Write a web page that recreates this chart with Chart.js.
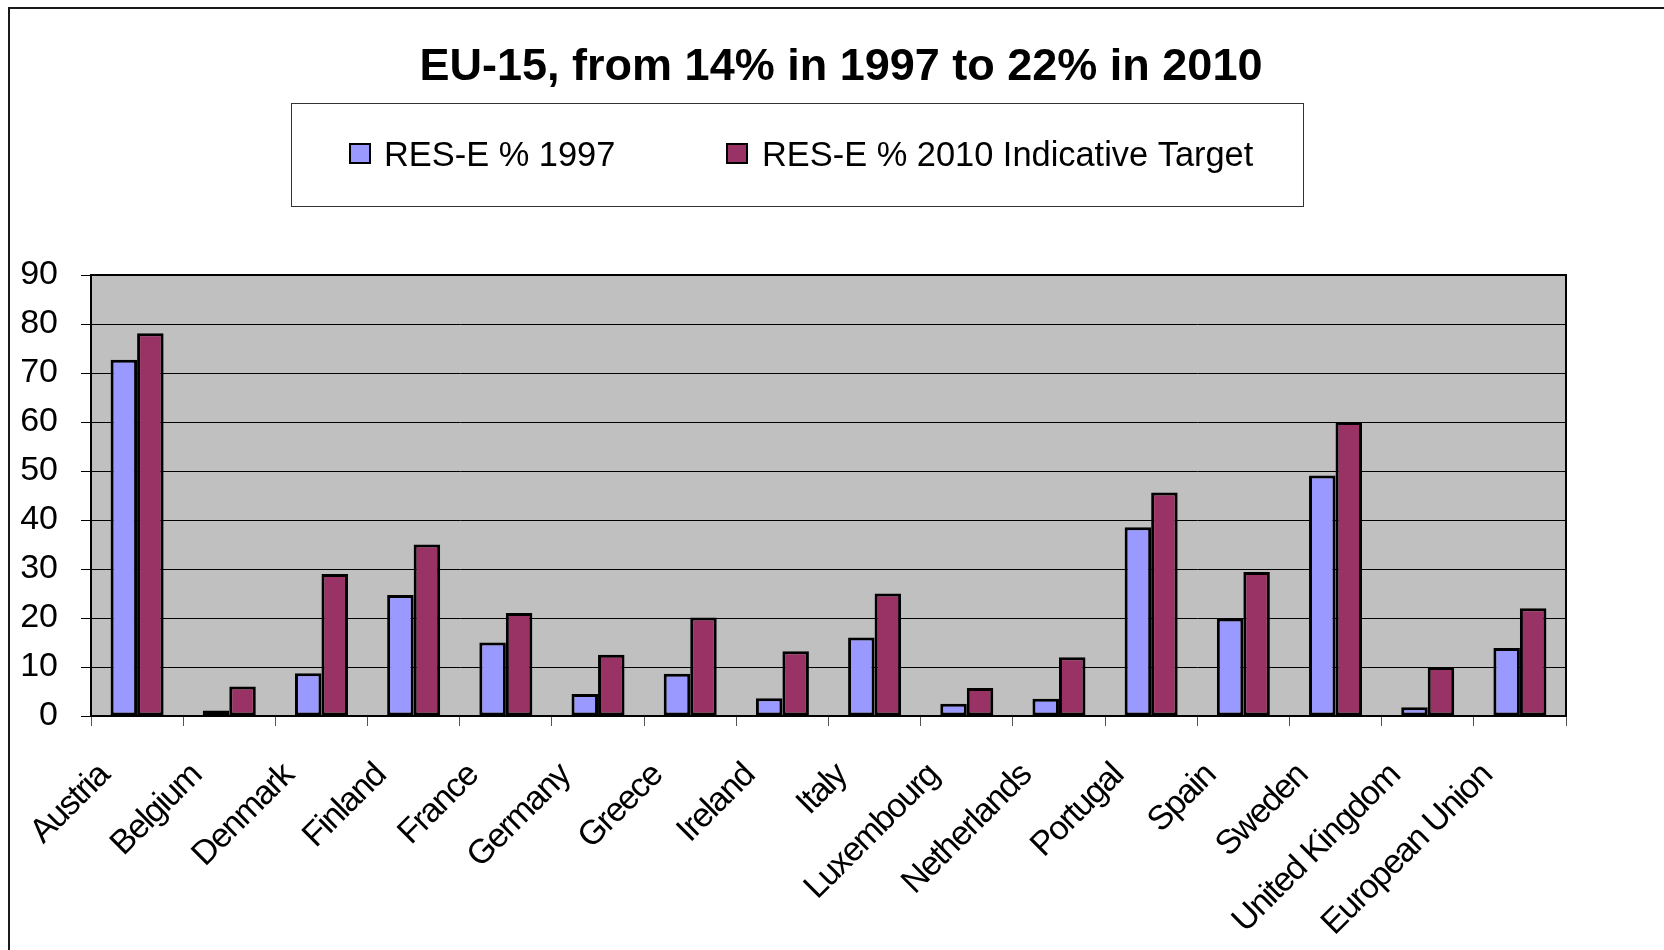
<!DOCTYPE html>
<html>
<head>
<meta charset="utf-8">
<script src="https://cdn.jsdelivr.net/npm/chart.js@4/dist/chart.umd.min.js"></script>
<style>
html,body{margin:0;padding:0;background:#fff;}
#wrap{width:1664px;height:950px;overflow:hidden;}
canvas{display:block;}
</style>
</head>
<body>
<div id="wrap"><canvas id="c" width="1664" height="950"></canvas></div>
<script>
const chartTitle = 'EU-15, from 14% in 1997 to 22% in 2010';
const countries = ['Austria', 'Belgium', 'Denmark', 'Finland', 'France', 'Germany', 'Greece', 'Ireland', 'Italy', 'Luxembourg', 'Netherlands', 'Portugal', 'Spain', 'Sweden', 'United Kingdom', 'European Union'];
const seriesNames = ['RES-E % 1997', 'RES-E % 2010 Indicative Target'];
const res1997 = [72.7, 1.1, 8.7, 24.7, 15.0, 4.5, 8.6, 3.6, 16.0, 2.5, 3.5, 38.5, 19.9, 49.1, 1.8, 13.9];
const target2010 = [78.1, 6.0, 29.0, 35.0, 21.0, 12.5, 20.1, 13.2, 25.0, 5.7, 12.0, 45.6, 29.4, 60.0, 10.0, 22.0];
const yTickValues = [0, 10, 20, 30, 40, 50, 60, 70, 80, 90];

const FONT = '"Liberation Sans", Arial, Helvetica, sans-serif';

const decorPlugin = {
  id: 'decor',
  beforeDraw(chart) {
    const ctx = chart.ctx, a = chart.chartArea;
    ctx.save();
    ctx.fillStyle = '#ffffff';
    ctx.fillRect(0, 0, chart.width, chart.height);
    ctx.fillStyle = '#C0C0C0';
    ctx.fillRect(a.left, a.top, a.right - a.left, a.bottom - a.top);
    ctx.restore();
    ctx.letterSpacing = '0px';
  },
  afterDatasetsDraw(chart) {
    const ctx = chart.ctx, a = chart.chartArea;
    ctx.save();
    ctx.strokeStyle = '#000';
    ctx.lineWidth = 2;
    ctx.beginPath();
    ctx.moveTo(a.left, a.top);
    ctx.lineTo(a.right, a.top);
    ctx.lineTo(a.right, a.bottom);
    ctx.stroke();
    ctx.restore();
    // x category labels (drawn next, z=1) are slightly condensed as in the original
    ctx.letterSpacing = '-1.5px';
  },
  afterDraw(chart) {
    const ctx = chart.ctx;
    ctx.letterSpacing = '0px';
    ctx.save();
    // outer frame (top + left)
    ctx.strokeStyle = '#1a1a1a';
    ctx.lineWidth = 2;
    ctx.beginPath();
    ctx.moveTo(chart.width, 8);
    ctx.lineTo(9, 8);
    ctx.lineTo(9, chart.height);
    ctx.stroke();
    // title
    ctx.fillStyle = '#000';
    ctx.font = 'bold 45px ' + FONT;
    ctx.textAlign = 'center';
    ctx.textBaseline = 'alphabetic';
    ctx.fillText(chartTitle, 841, 80);
    // legend box
    ctx.strokeStyle = '#333';
    ctx.lineWidth = 1;
    ctx.strokeRect(291.5, 103.5, 1012, 103);
    const pos = [{ sq: 350, tx: 384 }, { sq: 727, tx: 762 }];
    ctx.font = '34.4px ' + FONT;
    ctx.textAlign = 'left';
    chart.data.datasets.forEach((ds, i) => {
      const p = pos[i];
      ctx.fillStyle = ds.backgroundColor;
      ctx.fillRect(p.sq, 144, 20, 19);
      ctx.strokeStyle = '#000';
      ctx.lineWidth = 2;
      ctx.strokeRect(p.sq, 144, 20, 19);
      ctx.fillStyle = '#000';
      ctx.fillText(ds.label, p.tx, 166);
    });
    ctx.restore();
  }
};

new Chart(document.getElementById('c'), {
  type: 'bar',
  data: {
    labels: countries,
    datasets: [
      { label: seriesNames[0], data: res1997, backgroundColor: '#9999FF', borderColor: '#000', borderWidth: 3, borderSkipped: false, categoryPercentage: 0.575, barPercentage: 1.0 },
      { label: seriesNames[1], data: target2010, backgroundColor: '#993366', borderColor: '#000', borderWidth: 3, borderSkipped: false, categoryPercentage: 0.575, barPercentage: 1.0 }
    ]
  },
  options: {
    responsive: false,
    animation: false,
    devicePixelRatio: 1,
    layout: { padding: { top: 275, right: 98, left: 0, bottom: 0 } },
    plugins: {
      legend: { display: false },
      title: { display: false },
      tooltip: { enabled: false }
    },
    scales: {
      x: {
        offset: true,
        grid: { display: true, offset: true, drawOnChartArea: false, drawTicks: true, tickLength: 10, color: '#555', lineWidth: 1 },
        border: { display: true, color: '#000', width: 2 },
        ticks: { z: 1, autoSkip: false, minRotation: 45, maxRotation: 45, labelOffset: -33, padding: 30, color: '#000', font: { family: FONT, size: 34 } },
        afterFit: s => { s.height = 234; }
      },
      y: {
        min: 0,
        max: 90,
        afterBuildTicks: s => { s.ticks = yTickValues.map(v => ({ value: v })); },
        grid: { color: '#000', lineWidth: 1, drawTicks: true, tickLength: 10, tickColor: '#000' },
        border: { display: true, color: '#000', width: 2 },
        ticks: { padding: 23, color: '#000', font: { family: FONT, size: 34 } },
        afterFit: s => { s.width = 91; }
      }
    }
  },
  plugins: [decorPlugin]
});
</script>
</body>
</html>
